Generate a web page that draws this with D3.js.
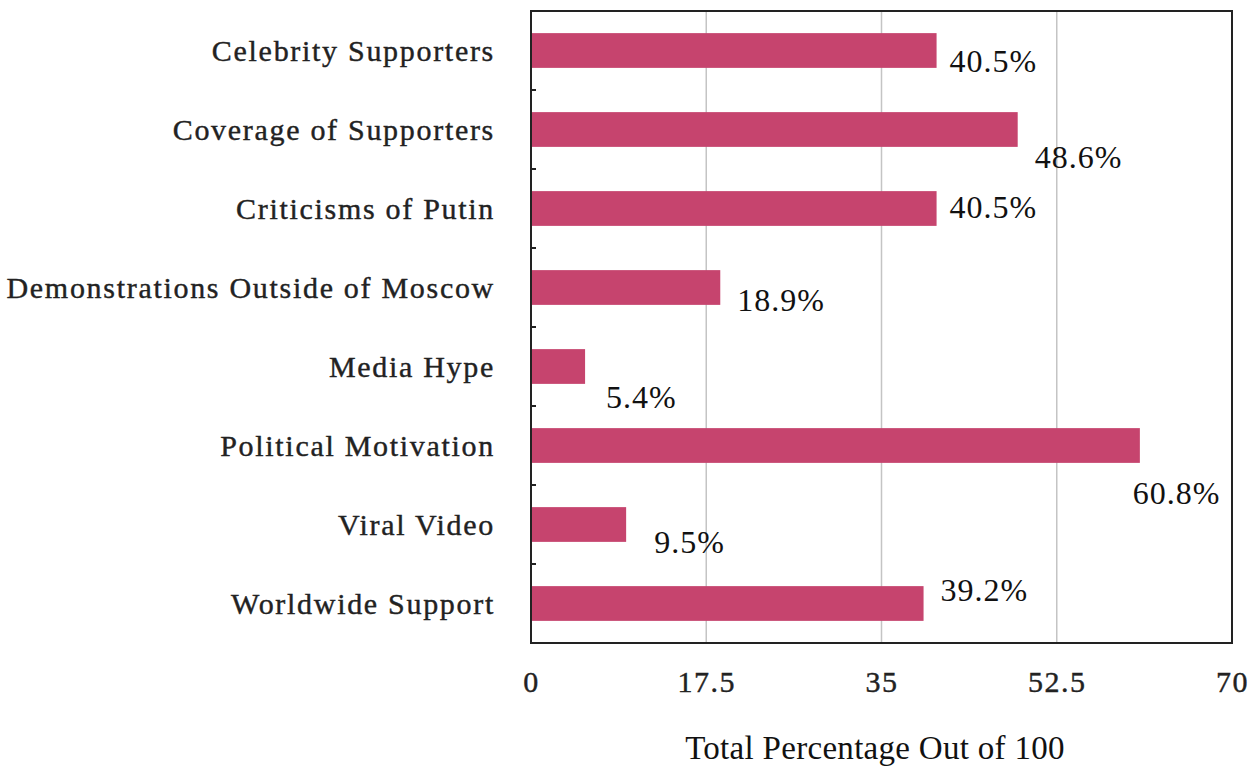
<!DOCTYPE html>
<html><head><meta charset="utf-8">
<script src="https://cdn.jsdelivr.net/npm/d3@7"></script>
<style>body{margin:0;background:#fff}svg{display:block}</style>
</head><body>
<script>
const categories = ["Celebrity Supporters","Coverage of Supporters","Criticisms of Putin","Demonstrations Outside of Moscow","Media Hype","Political Motivation","Viral Video","Worldwide Support"];
const values = [40.5, 48.6, 40.5, 18.9, 5.4, 60.8, 9.5, 39.2];
const valueLabels = ["40.5%","48.6%","40.5%","18.9%","5.4%","60.8%","9.5%","39.2%"];
const xTicks = [0, 17.5, 35, 52.5, 70];
const xTickLabels = ["0","17.5","35","52.5","70"];
const axisTitle = "Total Percentage Out of 100";
// label nudges (px) relative to bar end / bar centre, as placed in the original
const labelDx = [13, 17, 13, 17, 21, -7, 28, 17];
const labelDy = [10, 27, -2, 12, 30, 47, 17, -14];

const W = 1253, H = 767;
const m = {left:531, right:W-1232, top:11, bottom:H-643};
const svg = d3.select("body").append("svg").attr("width",W).attr("height",H);
const x = d3.scaleLinear().domain([0,70]).range([m.left, W-m.right]);
const y = d3.scaleBand().domain(categories).range([m.top, H-m.bottom]).paddingInner(0.56).paddingOuter(0.28);
const serif = "'Liberation Serif', 'DejaVu Serif', serif";

// gridlines
svg.append("g").selectAll("line").data(xTicks.slice(1,-1)).join("line")
  .attr("x1",d=>x(d)).attr("x2",d=>x(d)).attr("y1",m.top).attr("y2",H-m.bottom)
  .attr("stroke","#c4c4c4").attr("stroke-width",1.5);

// bars
svg.append("g").selectAll("rect").data(values).join("rect")
  .attr("x",x(0)).attr("y",(d,i)=>y(categories[i]))
  .attr("width",d=>x(d)-x(0)).attr("height",y.bandwidth())
  .attr("fill","#c6446e");

// frame
svg.append("rect").attr("x",m.left).attr("y",m.top).attr("width",x(70)-x(0)).attr("height",H-m.bottom-m.top)
  .attr("fill","none").attr("stroke","#222").attr("stroke-width",2);

// category separator ticks on the left axis
const step = y.step();
svg.append("g").selectAll("line").data(categories.slice(1)).join("line")
  .attr("x1",m.left).attr("x2",m.left+5)
  .attr("y1",d=>y(d)-y.paddingInner()*step/2).attr("y2",d=>y(d)-y.paddingInner()*step/2)
  .attr("stroke","#222").attr("stroke-width",2);

// category labels
svg.append("g").selectAll("text").data(categories).join("text")
  .attr("x",495).attr("y",d=>y(d)+y.bandwidth()/2)
  .attr("text-anchor","end").attr("dominant-baseline","central")
  .attr("font-family",serif).attr("font-size",30).attr("letter-spacing","1.7px").attr("fill","#222")
  .attr("stroke","#222").attr("stroke-width",0.4)
  .text(d=>d);

// x tick labels
const xAxis = d3.axisBottom(x).tickValues(xTicks).tickFormat((d,i)=>xTickLabels[i]).tickSize(0).tickPadding(28);
const gx = svg.append("g").attr("transform",`translate(0,${H-m.bottom})`).call(xAxis);
gx.select(".domain").remove();
gx.selectAll("text").attr("font-family",serif).attr("font-size",30).attr("fill","#222").attr("letter-spacing","1.5px")
  .attr("stroke","#222").attr("stroke-width",0.4);

// value labels
svg.append("g").selectAll("text").data(values).join("text")
  .attr("x",(d,i)=>x(d)+labelDx[i]).attr("y",(d,i)=>y(categories[i])+y.bandwidth()/2+labelDy[i])
  .attr("dominant-baseline","central")
  .attr("font-family",serif).attr("font-size",32).attr("letter-spacing","1px").attr("fill","#111")
  .text((d,i)=>valueLabels[i]);

// axis title
svg.append("text").attr("x",875).attr("y",759).attr("text-anchor","middle")
  .attr("font-family",serif).attr("font-size",33).attr("letter-spacing","0.3px").attr("fill","#111").text(axisTitle);
</script>
</body></html>
